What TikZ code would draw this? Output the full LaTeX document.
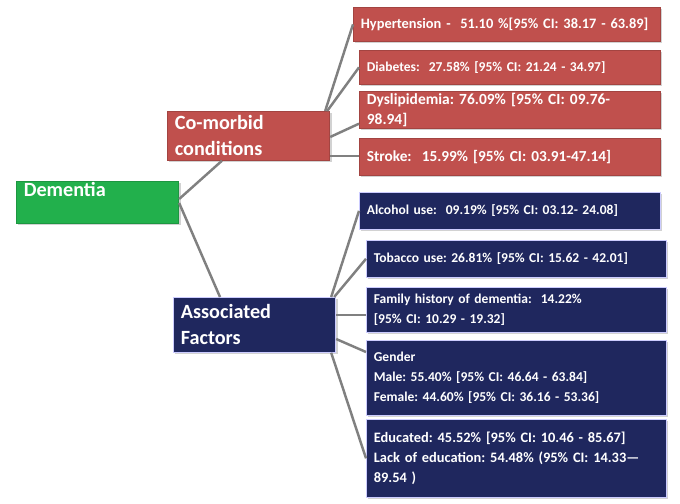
\documentclass[tikz,border=0pt]{standalone}
\usepackage{fontspec}
\setmainfont{Carlito}
\usetikzlibrary{calc,shadows}
\definecolor{cored}{RGB}{192,80,77}
\definecolor{navy}{RGB}{31,39,94}
\definecolor{demgreen}{RGB}{34,176,76}
\definecolor{linkgray}{RGB}{128,128,128}
\frenchspacing

\begin{document}
\begin{tikzpicture}[x=0.02cm,y=-0.02cm,
  fsize/.style={font=\bfseries\fontsize{#1}{11.3}\selectfont},
  box/.style={anchor=north west,inner xsep=0.15cm,inner ysep=0pt,align=left,text=white,fsize=7.7,
    drop shadow={opacity=0.35,shadow xshift=0.04cm,shadow yshift=-0.04cm}},
  bigbox/.style={box,font=\bfseries\fontsize{11.5}{14.7}\selectfont,text width=2.95cm},
  redbox/.style={box,fill=cored,draw=cored!85!black},
  navybox/.style={box,fill=navy,draw=blue!20!white},
  link/.style={draw=linkgray,line width=1.4pt}]
  \useasboundingbox[fill=white] (0,0) rectangle (680,504);
  % left part
  \node[bigbox,fill=demgreen,draw=demgreen!85!black,text height=0.3cm,text depth=0.54cm] (dem) at (16,181) {Dementia};
  \node[bigbox,fill=cored,draw=cored!85!black,minimum height=0.98cm] (como) at (167,111) {Co-morbid\\conditions};
  \node[bigbox,fill=navy,draw=blue!20!white,minimum height=1.1cm] (assoc) at (173,297) {Associated\\Factors};
  % co-morbid conditions
  \node[redbox,fsize=8.2,text width=5.84cm,minimum height=0.68cm] (hyp) at (353,7) {Hypertension -\ \ 51.10 \%[95\% CI: 38.17 - 63.89]};
  \node[redbox,text width=5.72cm,minimum height=0.68cm] (dia) at (359,50) {Diabetes:\ \ 27.58\% [95\% CI: 21.24 - 34.97]};
  \node[redbox,fsize=8.8,text width=5.72cm,minimum height=0.74cm] (dys) at (359,91) {Dyslipidemia: 76.09\% [95\% CI: 09.76-\\98.94]};
  \node[redbox,fsize=8.7,text width=5.72cm,minimum height=0.74cm] (str) at (359,138) {Stroke:\ \ 15.99\% [95\% CI: 03.91-47.14]};
  % associated factors
  \node[navybox,text width=5.72cm,minimum height=0.74cm] (alc) at (359,192) {Alcohol use:\ \ 09.19\% [95\% CI: 03.12- 24.08]};
  \node[navybox,text width=5.7cm,minimum height=0.74cm] (tob) at (366,240) {Tobacco use: 26.81\% [95\% CI: 15.62 - 42.01]};
  \node[navybox,text width=5.7cm,minimum height=0.9cm] (fam) at (366,287) {Family history of dementia:\ \ 14.22\%\\{}[95\% CI: 10.29 - 19.32]};
  \node[navybox,text width=5.7cm,minimum height=1.5cm] (gen) at (366,340) {Gender\\Male: 55.40\% [95\% CI: 46.64 - 63.84]\\Female: 44.60\% [95\% CI: 36.16 - 53.36]};
  \node[navybox,fsize=8.2,text width=5.7cm,minimum height=1.56cm] (edu) at (366,419) {Educated: 45.52\% [95\% CI: 10.46 - 85.67]\\Lack of education: 54.48\% (95\% CI: 14.33---\\89.54 )};
  % connectors
  \draw[link] ($(dem.north east)+(0,18)$) -- ($(como.south west)+(55,0)$);
  \draw[link] ($(dem.north east)+(0,22)$) -- ($(assoc.north west)+(47,0)$);
  \draw[link] ($(como.north east)+(-5,0)$) -- (hyp.west);
  \draw[link] ($(como.north east)+(-3,0)$) -- (dia.west);
  \draw[link] ($(como.north east)+(0,26)$) -- ($(dys.south west)+(0,-5)$);
  \draw[link] ($(str.west -| como.east)+(0,-1)$) -- ($(str.west)+(0,-1)$);
  \draw[link] ($(assoc.north east)+(-5,0)$) -- (alc.west);
  \draw[link] ($(assoc.north east)+(-2,0)$) -- (tob.west);
  \draw[link] ($(fam.west -| assoc.east)+(0,5)$) -- ($(fam.west)+(0,5)$);
  \draw[link] ($(assoc.north east)+(0,42)$) -- ($(gen.north west)+(0,12)$);
  \draw[link] ($(assoc.south east)+(-5,0)$) -- (edu.west);
\end{tikzpicture}
\end{document}
